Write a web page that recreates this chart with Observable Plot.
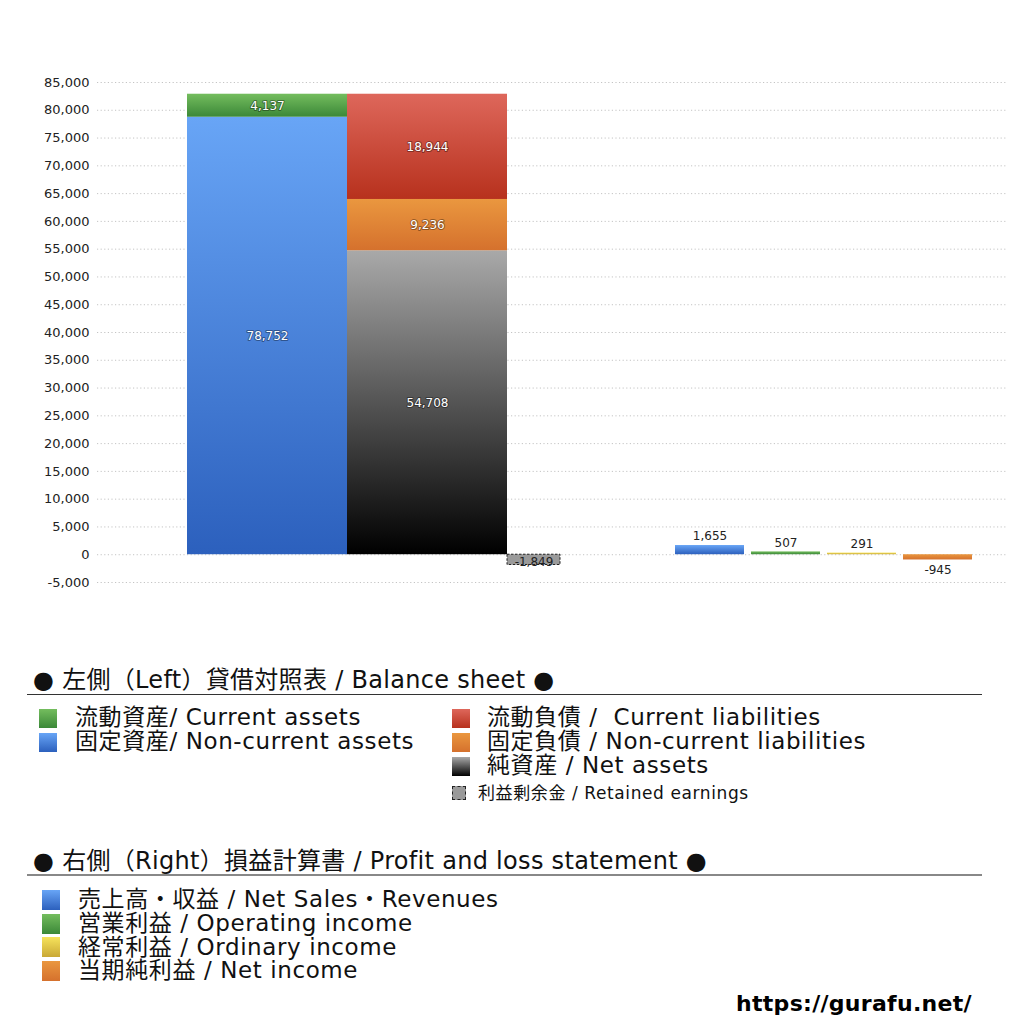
<!DOCTYPE html>
<html><head><meta charset="utf-8">
<script src="https://cdn.jsdelivr.net/npm/d3@7"></script>
<script src="https://cdn.jsdelivr.net/npm/@observablehq/plot@0.6"></script>
<style>
body{margin:0;background:#fff;width:1024px;height:1024px;position:relative;overflow:hidden;font-family:"DejaVu Sans","Noto Sans CJK JP",sans-serif;color:#111}
#chart{position:absolute;left:0;top:0}
.t{position:absolute;white-space:pre}
.sw{position:absolute}
</style></head><body>
<div id="chart"></div>
<div id="legend"></div>
<script>
// ---- data ----
const yTicks = d3.range(-5000, 85001, 5000);
const assetNames = ["固定資産", "流動資産"];
const assetValues = [78752, 4137];
const liabNames = ["純資産", "固定負債", "流動負債"];
const liabValues = [54708, 9236, 18944];
const retainedName = "利益剰余金";
const retainedValue = -1849;
const plNames = ["売上高・収益", "営業利益", "経常利益", "当期純利益"];
const plValues = [1655, 507, 291, -945];

// ---- styles ----
const grads = {
  blue: ["#68a5f6", "#2c60bd"],
  green: ["#74bd5e", "#3b8838"],
  red: ["#de675b", "#b7311d"],
  orange: ["#ea973f", "#d5712d"],
  black: ["#a9a9a9", "#000000"],
  yellow: ["#f6e35c", "#c9a835"]
};
const gradOf = {
  "固定資産": "blue", "流動資産": "green", "純資産": "black", "固定負債": "orange", "流動負債": "red",
  "売上高・収益": "blue", "営業利益": "green", "経常利益": "yellow", "当期純利益": "orange"
};
const url = k => `url(#g-${k})`;

// ---- layout (x in plot units) ----
const colAssets = [90, 250], colLiab = [250, 410], colRet = [410, 463];
const plStart = 578, plStep = 76, plWidth = 69;

function stack(names, values, col) {
  const ends = d3.cumsum(values);
  return names.map((n, i) => ({name: n, value: values[i], x1: col[0], x2: col[1], y1: ends[i] - values[i], y2: ends[i], fill: url(gradOf[n])}));
}
const bsRows = [...stack(assetNames, assetValues, colAssets), ...stack(liabNames, liabValues, colLiab)];
const retRows = [{name: retainedName, value: retainedValue, x1: colRet[0], x2: colRet[1], y1: 0, y2: retainedValue}];
const plRows = plNames.map((n, i) => ({name: n, value: plValues[i], x1: plStart + i * plStep, x2: plStart + i * plStep + plWidth, y1: 0, y2: plValues[i], fill: url(gradOf[n])}));
const locale = d3.formatLocale({decimal: ".", thousands: ",", grouping: [3], currency: ["", ""], minus: "-"});
const fmt = locale.format(",");
const mid = d => (d.x1 + d.x2) / 2;

const plot = Plot.plot({
  width: 1024, height: 600,
  marginTop: 82, marginBottom: 18, marginLeft: 97, marginRight: 17,
  style: {fontFamily: "DejaVu Sans, sans-serif", fontSize: "13px", color: "#222", background: "#fff"},
  x: {domain: [0, 910], axis: null},
  y: {domain: [-5000, 85000], label: null, axis: null},
  color: {type: "identity"},
  marks: [
    Plot.ruleY(yTicks, {stroke: "#c4c4c4", strokeDasharray: "1.2,2.4", strokeWidth: 1}),
    Plot.axisY(yTicks, {tickSize: 0, tickPadding: 8, tickFormat: fmt, fontSize: 13, fill: "#222", label: null}),
    Plot.rect(bsRows, {x1: "x1", x2: "x2", y1: "y1", y2: "y2", fill: "fill"}),
    Plot.rect(retRows, {x1: "x1", x2: "x2", y1: "y1", y2: "y2", fill: "#9a9a9a", stroke: "#222", strokeDasharray: "2.5,1.5", strokeWidth: 1}),
    Plot.rect(plRows, {x1: "x1", x2: "x2", y1: "y1", y2: "y2", fill: "fill"}),
    Plot.text(bsRows, {x: mid, y: d => (d.y1 + d.y2) / 2, text: d => fmt(d.value), fill: "#fff", stroke: "#000", strokeOpacity: 0.35, strokeWidth: 2, fontSize: 12}),
    Plot.text(retRows, {x: mid, y: "y2", text: d => fmt(d.value), fill: "#222", fontSize: 12, dy: -3}),
    Plot.text(plRows.filter(d => d.value >= 0), {x: mid, y: "y2", text: d => fmt(d.value), fill: "#222", fontSize: 12, dy: -9}),
    Plot.text(plRows.filter(d => d.value < 0), {x: mid, y: "y2", text: d => fmt(d.value), fill: "#222", fontSize: 12, dy: 10})
  ]
});

const defs = d3.select(plot).insert("defs", ":first-child");
for (const [k, [top, bot]] of Object.entries(grads)) {
  const g = defs.append("linearGradient").attr("id", `g-${k}`).attr("x1", 0).attr("y1", 0).attr("x2", 0).attr("y2", 1);
  g.append("stop").attr("offset", "0%").attr("stop-color", top);
  g.append("stop").attr("offset", "100%").attr("stop-color", bot);
}
document.getElementById("chart").appendChild(plot);

// ---- legend ----
const leg = document.getElementById("legend");
function text(str, left, cy, size, extra = "") {
  const d = document.createElement("div");
  d.className = "t";
  d.style.cssText = `left:${left}px;top:${cy - size * 0.6}px;font-size:${size}px;line-height:${size * 1.2}px;${extra}`;
  d.textContent = str;
  leg.appendChild(d);
}
function box(left, cy, w, h, css) {
  const d = document.createElement("div");
  d.className = "sw";
  d.style.cssText = `left:${left}px;top:${cy - h / 2}px;width:${w}px;height:${h}px;${css}`;
  leg.appendChild(d);
}
const cssGrad = k => `background:linear-gradient(${grads[k][0]},${grads[k][1]})`;

const bsTitle = "● 左側（Left）貸借対照表 / Balance sheet ●";
const plTitle = "● 右側（Right）損益計算書 / Profit and loss statement ●";
const bsLeftItems = [["green", "流動資産/ Current assets"], ["blue", "固定資産/ Non-current assets"]];
const bsRightItems = [["red", "流動負債 /  Current liabilities"], ["orange", "固定負債 / Non-current liabilities"], ["black", "純資産 / Net assets"]];
const retainedLabel = "利益剰余金 / Retained earnings";
const plItems = [["blue", "売上高・収益 / Net Sales・Revenues"], ["green", "営業利益 / Operating income"], ["yellow", "経常利益 / Ordinary income"], ["orange", "当期純利益 / Net income"]];

const itemCss = "letter-spacing:0.6px";
text(bsTitle, 33, 680, 24, "letter-spacing:0.3px");
box(27, 694, 955, 1, "background:#333");
bsLeftItems.forEach(([k, s], i) => { box(39, 718 + i * 24, 18, 19, cssGrad(k)); text(s, 75, 718 + i * 24, 23, itemCss); });
bsRightItems.forEach(([k, s], i) => { box(452, 718 + i * 24, 18, 19, cssGrad(k)); text(s, 487, 718 + i * 24, 23, itemCss); });
box(452, 793, 14, 14, "background:#9a9a9a;border:1px dashed #222;box-sizing:border-box");
text(retainedLabel, 478, 793, 17, "letter-spacing:0.6px");

text(plTitle, 33, 861, 24, "letter-spacing:0.3px");
box(27, 875, 955, 2, "background:#888");
plItems.forEach(([k, s], i) => { box(42, 900 + i * 23.7, 18, 20, cssGrad(k)); text(s, 78, 900 + i * 23.7, 23, itemCss); });

text("https://gurafu.net/", 736, 1004, 22, "font-weight:bold;color:#000;letter-spacing:0.3px");
</script>
</body></html>
